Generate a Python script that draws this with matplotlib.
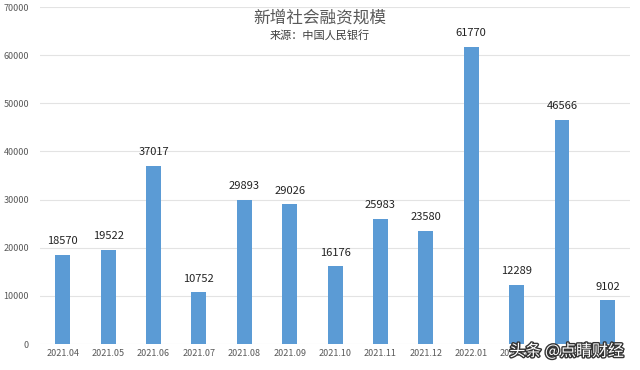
import matplotlib.pyplot as plt
import matplotlib.patheffects as pe

plt.rcParams['font.family'] = ['Noto Sans CJK SC', 'DejaVu Sans']

months = ['2021.04', '2021.05', '2021.06', '2021.07', '2021.08', '2021.09', '2021.10',
          '2021.11', '2021.12', '2022.01', '2022.02', '2022.03', '2022.04']
values = [18570, 19522, 37017, 10752, 29893, 29026, 16176, 25983, 23580, 61770, 12289, 46566, 9102]
yticks = [0, 10000, 20000, 30000, 40000, 50000, 60000, 70000]

fig = plt.figure(figsize=(6.4, 3.7), dpi=100)
ax = fig.add_axes([0.0625, 0.07, 0.922, 0.911])

x = range(len(months))
bars = ax.bar(x, values, width=0.33, color='#5B9BD5', zorder=3)

for i, v in enumerate(values):
    ax.text(i, v + 1800, str(v), ha='center', va='bottom', fontsize=8, color='#222222')

ax.set_ylim(0, 70000)
ax.set_xlim(-0.5, len(months) - 0.5)
ax.set_yticks(yticks)
ax.set_yticklabels([str(t) for t in yticks])
ax.set_xticks(list(x))
ax.set_xticklabels(months)
ax.tick_params(axis='both', length=0, labelsize=6.5, labelcolor='#595959')
ax.tick_params(axis='y', pad=8)
ax.grid(axis='y', color='#e3e3e3', linewidth=0.8, zorder=0)
for s in ax.spines.values():
    s.set_visible(False)

fig.text(0.5, 0.952, '新增社会融资规模', ha='center', va='center', fontsize=12, color='#595959')
fig.text(0.5, 0.905, '来源：中国人民银行', ha='center', va='center', fontsize=8, color='#404040')

fig.text(0.975, 0.05, '头条 @点睛财经', ha='right', va='center', fontsize=11.5, color='white',
         path_effects=[pe.withStroke(linewidth=2, foreground='#333333')])

fig.savefig('out.png', dpi=100)
